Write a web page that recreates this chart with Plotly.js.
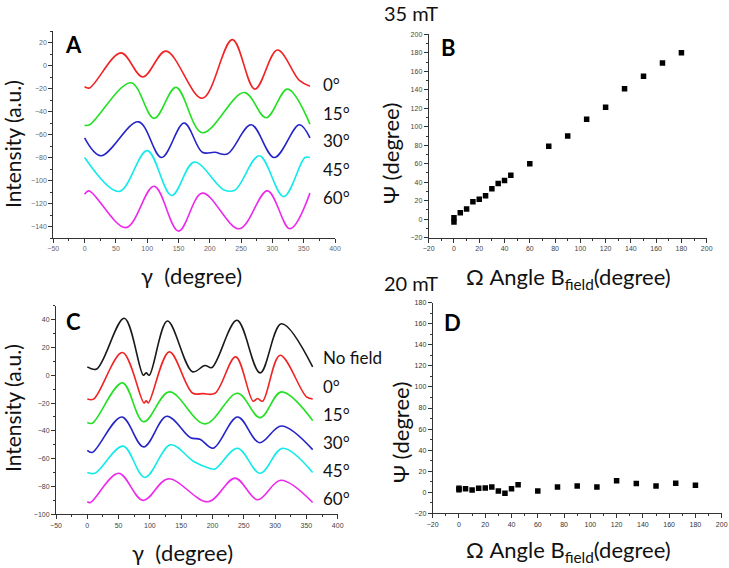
<!DOCTYPE html>
<html>
<head>
<meta charset="utf-8">
<script src="https://cdn.plot.ly/plotly-3.0.1.min.js"></script>
<style>html,body{margin:0;padding:0;background:#fff;}#chart{width:729px;height:568px;}</style>
</head>
<body>
<div id="chart"></div>
<script>
// ---- Panel A (35 mT) intensity curves ----
var aRedX = [0, 8, 58, 93, 130, 188, 236, 272, 308, 343, 360];
var aRedY = [-18.5, -19.5, 11, -10, 12.5, -28.5, 22.5, -20.5, 13.5, -13, -18];
var aGreenX = [0, 8, 74, 111, 146, 188, 255, 290, 324, 360];
var aGreenY = [-52, -51.5, -15, -46, -19, -58.5, -23.5, -45.5, -20.5, -51];
var aBlueX = [0, 26, 86, 123, 159, 188, 208, 228, 266, 303, 343, 360];
var aBlueY = [-63, -78.5, -49, -80, -50, -75.5, -75.5, -77, -51.5, -80, -51.5, -63];
var aCyanX = [0, 55, 100, 139, 175, 222, 240, 279, 318, 352, 360];
var aCyanY = [-80, -109.5, -74, -113, -84, -108, -108.5, -78.5, -114, -80, -80];
var aMagX = [0, 7, 66, 111, 150, 188, 247, 292, 328, 360];
var aMagY = [-112, -109, -141, -105, -144, -111, -142, -109, -142, -111];
var aLabels = ["0°", "15°", "30°", "45°", "60°"];

// ---- Panel B (35 mT) Psi vs Omega ----
var bOmega = [0, 0, 5, 10, 15, 20, 25, 30, 35, 40, 45, 60, 75, 90, 105, 120, 135, 150, 165, 180];
var bPsi = [1.5, -3, 7, 11, 19, 21.5, 25.5, 33, 38.5, 42, 47.5, 60, 79, 90, 108, 121, 141, 154.5, 169, 180];

// ---- Panel C (20 mT) intensity curves ----
var cBlackX = [0, 15, 59, 89.5, 94, 99, 128, 168, 188, 199, 239, 276, 310, 360];
var cBlackY = [6, 4.5, 41, 0, 1.7, 0, 39, 2.5, 7, 5.5, 39.5, 1.7, 37, 6];
var cRedX = [0, 10, 56, 90.5, 94, 97.5, 131, 168, 185, 204, 237, 265, 272, 280, 308, 350, 360];
var cRedY = [-17, -17.2, 16.3, -19.9, -18.4, -19.9, 16.8, -12.8, -13.2, -13, 13.2, -18.7, -16.7, -18.7, 14.4, -15.5, -17];
var cGreenX = [0, 8, 56, 90, 131, 188, 240, 276, 310, 360];
var cGreenY = [-34, -34.5, -5.5, -33.5, -12, -35, -13, -30.5, -12, -32.5];
var cBlueX = [0, 8, 55, 90, 127, 165, 180, 201, 240, 275, 310, 360];
var cBlueY = [-54, -55.5, -30, -51.5, -29.5, -45, -46, -52.5, -30, -48.5, -36.5, -53.5];
var cCyanX = [0, 12, 57, 92, 133, 170, 196, 204, 240, 276, 312, 360];
var cCyanY = [-70, -70.5, -51, -73.5, -50, -62, -67, -67.5, -52.5, -70.5, -52.5, -70];
var cMagX = [0, 5, 50, 89, 129, 193, 236, 272, 309, 360];
var cMagY = [-91, -91.5, -70.5, -90, -74.5, -91, -74, -89.5, -75.5, -91.5];
var cLabels = ["No field", "0°", "15°", "30°", "45°", "60°"];

// ---- Panel D (20 mT) Psi vs Omega ----
var dOmega = [0, 0, 5, 10, 15, 20, 25, 30, 35, 40, 45, 60, 75, 90, 105, 120, 135, 150, 165, 180];
var dPsi = [3.8, 2.4, 3.4, 2.2, 3.7, 4, 5, 1.2, -1, 3.4, 7.2, 1.2, 5, 6, 5, 11, 8.2, 6, 8.5, 6.6];

var colRed = '#f02424', colGreen = '#22e022', colBlue = '#2424c8', colCyan = '#12eaea', colMag = '#ec2aec', colBlack = '#1a1a1a';

function line(x, y, color, xa, ya) {
  return {x: x, y: y, type: 'scatter', mode: 'lines', xaxis: xa, yaxis: ya,
          line: {color: color, width: 1.6, shape: 'spline', smoothing: 1}, hoverinfo: 'skip'};
}
function pts(x, y, xa, ya) {
  return {x: x, y: y, type: 'scatter', mode: 'markers', xaxis: xa, yaxis: ya,
          marker: {symbol: 'square', size: 5.5, color: '#000'}, hoverinfo: 'skip'};
}

var data = [
  line(aRedX, aRedY, colRed, 'x', 'y'),
  line(aGreenX, aGreenY, colGreen, 'x', 'y'),
  line(aBlueX, aBlueY, colBlue, 'x', 'y'),
  line(aCyanX, aCyanY, colCyan, 'x', 'y'),
  line(aMagX, aMagY, colMag, 'x', 'y'),
  pts(bOmega, bPsi, 'x2', 'y2'),
  line(cBlackX, cBlackY, colBlack, 'x3', 'y3'),
  line(cRedX, cRedY, colRed, 'x3', 'y3'),
  line(cGreenX, cGreenY, colGreen, 'x3', 'y3'),
  line(cBlueX, cBlueY, colBlue, 'x3', 'y3'),
  line(cCyanX, cCyanY, colCyan, 'x3', 'y3'),
  line(cMagX, cMagY, colMag, 'x3', 'y3'),
  pts(dOmega, dPsi, 'x4', 'y4')
];

var W = 729, H = 568;
function fx(px) { return px / W; }
function fy(py) { return 1 - py / H; }

function ax(domain, range, tick0, dtick, minorD, anchor, tcol) {
  return {domain: domain, range: range, anchor: anchor, tickmode: 'linear', tick0: tick0, dtick: dtick,
          showgrid: false, zeroline: false, showline: true, linecolor: '#333', linewidth: 1,
          ticks: 'outside', ticklen: 4, tickwidth: 1, tickcolor: '#333',
          tickfont: {family: 'Liberation Sans, Arial, sans-serif', size: 7, color: tcol},
          minor: {ticks: 'outside', ticklen: 2, tickwidth: 1, tickcolor: '#333', dtick: minorD, tick0: tick0},
          fixedrange: true};
}

var layout = {
  width: W, height: H, autosize: false, showlegend: false,
  margin: {l: 0, r: 0, t: 0, b: 0},
  paper_bgcolor: '#fff', plot_bgcolor: 'rgba(0,0,0,0)',
  xaxis: ax([fx(53.3), fx(335)], [-50, 400], -50, 50, 25, 'y', '#666'),
  yaxis: ax([fy(238), fy(31)], [-150, 30], -140, 20, 10, 'x', '#666'),
  xaxis2: ax([fx(428.7), fx(706.7)], [-20, 200], -20, 20, 10, 'y2', '#444'),
  yaxis2: ax([fy(237.7), fy(34.3)], [-20, 200], -20, 20, 10, 'x2', '#444'),
  xaxis3: ax([fx(56), fx(337.7)], [-50, 400], -50, 50, 25, 'y3', '#444'),
  yaxis3: ax([fy(514.3), fy(305.7)], [-100, 50], -100, 20, 10, 'x3', '#444'),
  xaxis4: ax([fx(432.7), fx(721.7)], [-20, 200], -20, 20, 10, 'y4', '#333'),
  yaxis4: ax([fy(513.3), fy(302.7)], [-20, 180], -20, 20, 10, 'x4', '#333'),
  annotations: []
};

var titleFont = {family: 'Lato, Open Sans, sans-serif', size: 22, color: '#111'};
var intFont = {family: 'Lato, Open Sans, sans-serif', size: 21, color: '#111'};
var panelFont = {family: 'Lato, Open Sans, sans-serif', size: 22, color: '#000', weight: 'bold'};
var labFont = {family: 'Lato, Open Sans, sans-serif', size: 17, color: '#111'};
var mtFont = {family: 'Lato, Open Sans, sans-serif', size: 20, color: '#111'};

function ann(text, px, py, font, opts) {
  var a = {text: text, x: fx(px), y: fy(py), xref: 'paper', yref: 'paper', showarrow: false,
           font: font, xanchor: 'center', yanchor: 'middle', borderpad: 0};
  if (opts) for (var k in opts) a[k] = opts[k];
  layout.annotations.push(a);
}

// panel letters
ann('<b>A</b>', 73, 45, panelFont);
ann('<b>B</b>', 448, 47, panelFont);
ann('<b>C</b>', 73, 321, panelFont);
ann('<b>D</b>', 452, 322, panelFont);

// axis titles
ann('Intensity (a.u.)', 12, 144, intFont, {textangle: -90});
ann('γ  (degree)', 191, 275, titleFont);
ann('Intensity (a.u.)', 12, 408, intFont, {textangle: -90});
ann('γ  (degree)', 182, 552, titleFont);
ann('Ψ (degree)', 391, 153, titleFont, {textangle: -90});
ann('Ω Angle B<sub>field</sub>(degree)', 568, 278, titleFont);
ann('Ψ (degree)', 400, 432, titleFont, {textangle: -90});
ann('Ω Angle B<sub>field</sub>(degree)', 568, 551, titleFont);
ann('35 mT', 411, 13, mtFont);
ann('20 mT', 411, 283, mtFont);

// curve labels
var aLabY = [85, 113, 141, 169, 197];
for (var i = 0; i < aLabels.length; i++) ann(aLabels[i], 322, aLabY[i], labFont, {xanchor: 'left'});
var cLabY = [357, 386, 414, 442, 470, 498];
for (var j = 0; j < cLabels.length; j++) ann(cLabels[j], 322, cLabY[j], labFont, {xanchor: 'left'});

Plotly.newPlot('chart', data, layout, {staticPlot: true, displayModeBar: false});
</script>
</body>
</html>
